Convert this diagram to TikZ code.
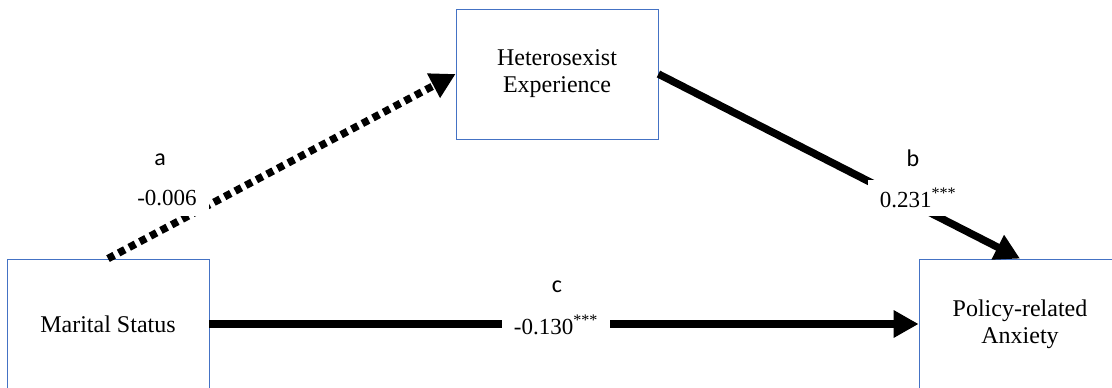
\documentclass[tikz,border=0pt]{standalone}
\usepackage{fontspec}
\setmainfont{Liberation Serif}
\newfontfamily\letterfont{Carlito}
\usetikzlibrary{arrows.meta,positioning}
\definecolor{boxline}{RGB}{68,114,196}

\begin{document}
\begin{tikzpicture}[
    x=1pt,
    y=-1pt,
    >={Triangle[length=25pt,width=26pt]},
    line cap=butt,
    box/.style={draw=boxline, line width=0.8pt, minimum width=202pt,
        minimum height=130pt, align=center,
        font=\fontsize{24}{27}\selectfont},
    path/.style={line width=7.5pt, ->},
    coeff/.style={fill=white, inner xsep=12pt, minimum height=36pt,
        font=\fontsize{23}{27}\selectfont},
    letter/.style={font=\letterfont\fontsize{24}{26}\selectfont}
]

% Cornice
\useasboundingbox (0,0) rectangle (1112,388);
\clip (0,0) rectangle (1112,388);

% Variabili
\node[box] (marital) at (108,324) {Marital Status};
\node[box] (hetero) at (557,74) {Heterosexist\\Experience};
\node[box] (policy) at (1020,324) {Policy-related\\Anxiety};

% Percorsi
\draw[path, dash pattern=on 7pt off 5pt] (marital.north) -- (hetero.west);
\draw[path] (hetero.east) -- (policy.north);
\draw[path] (marital.east) -- (policy.west);

% Coefficienti
\node[coeff] (coefa) at (167,198) {-0.006};
\node[coeff] (coefb) at (918,198) {0.231\textsuperscript{***}};
\node[coeff] (coefc) at (556,325) {-0.130\textsuperscript{***}};

\node[letter] (patha) at (160,160) {a};
\node[letter] (pathb) at (913,158) {b};
\node[letter] (pathc) at (557,287) {c};

\end{tikzpicture}
\end{document}
